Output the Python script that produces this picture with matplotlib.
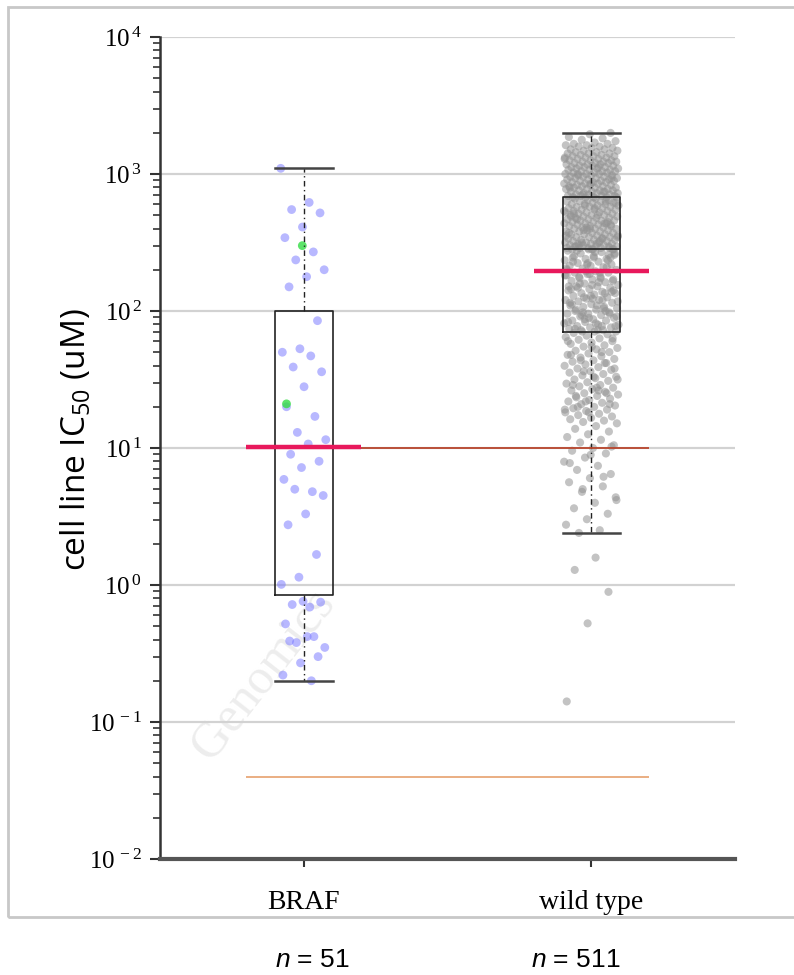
import numpy as np
import matplotlib
matplotlib.use("Agg")
import matplotlib.pyplot as plt
from matplotlib.patches import Rectangle
from matplotlib.ticker import FuncFormatter, LogLocator, NullFormatter, FixedLocator

plt.rcParams['mathtext.fontset'] = 'custom'
plt.rcParams['mathtext.it'] = 'Liberation Sans:italic'
plt.rcParams['mathtext.rm'] = 'Liberation Sans'

# ---------------- data ----------------
categories = ['BRAF', 'wild type']
counts = [51, 511]
y_decades = [-2, -1, 0, 1, 2, 3, 4]

braf_ic50 = [1100, 620, 550, 520, 410, 343, 270, 236, 200, 178, 150,
             85, 53, 50, 47, 39, 36, 28, 20, 17, 13, 11.5, 10.7,
             9, 8, 7.2, 5.9, 4.8, 5.0, 4.5, 3.3, 2.75, 1.67, 1.14, 1.01,
             0.69, 0.72, 0.75, 0.76, 0.52, 0.42, 0.38, 0.35, 0.42, 0.39,
             0.30, 0.27, 0.22, 0.20]
braf_green_ic50 = [300, 21]

# wild type, log10(IC50), by quarter
wt_log_q4 = [3.30, 3.29, 3.27, 3.26, 3.25, 3.24, 3.23, 3.22, 3.22, 3.21, 3.21, 3.20, 3.20, 3.19, 3.19, 3.18, 3.18, 3.17, 3.17, 3.16,
             3.16, 3.15, 3.15, 3.15, 3.14, 3.14, 3.13, 3.13, 3.13, 3.12, 3.12, 3.11, 3.11, 3.11, 3.10, 3.10, 3.10, 3.09, 3.09, 3.09,
             3.08, 3.08, 3.08, 3.07, 3.07, 3.07, 3.06, 3.06, 3.06, 3.05, 3.05, 3.05, 3.04, 3.04, 3.04, 3.03, 3.03, 3.03, 3.02, 3.02,
             3.02, 3.01, 3.01, 3.01, 3.00, 3.00, 3.00, 2.99, 2.99, 2.99, 2.98, 2.98, 2.98, 2.97, 2.97, 2.97, 2.96, 2.96, 2.96, 2.95,
             2.95, 2.95, 2.94, 2.94, 2.94, 2.93, 2.93, 2.93, 2.92, 2.92, 2.92, 2.91, 2.91, 2.91, 2.90, 2.90, 2.90, 2.89, 2.89, 2.89,
             2.88, 2.88, 2.88, 2.87, 2.87, 2.87, 2.86, 2.86, 2.86, 2.85, 2.85, 2.85, 2.84, 2.84, 2.84, 2.84, 2.83, 2.83, 2.83, 2.83,
             3.12, 3.05, 3.00, 2.97, 2.93, 2.90, 2.87, 2.85]
wt_log_q3 = [2.83, 2.82, 2.82, 2.81, 2.81, 2.80, 2.80, 2.80, 2.79, 2.79, 2.78, 2.78, 2.78, 2.77, 2.77, 2.76, 2.76, 2.76, 2.75, 2.75,
             2.74, 2.74, 2.74, 2.73, 2.73, 2.72, 2.72, 2.72, 2.71, 2.71, 2.70, 2.70, 2.70, 2.69, 2.69, 2.68, 2.68, 2.68, 2.67, 2.67,
             2.66, 2.66, 2.66, 2.65, 2.65, 2.64, 2.64, 2.64, 2.63, 2.63, 2.62, 2.62, 2.62, 2.61, 2.61, 2.60, 2.60, 2.60, 2.59, 2.59,
             2.58, 2.58, 2.58, 2.57, 2.57, 2.56, 2.56, 2.56, 2.55, 2.55, 2.54, 2.54, 2.54, 2.53, 2.53, 2.52, 2.52, 2.52, 2.51, 2.51,
             2.50, 2.50, 2.50, 2.49, 2.49, 2.49, 2.48, 2.48, 2.48, 2.47, 2.47, 2.47, 2.47, 2.46, 2.46, 2.46, 2.46, 2.45, 2.45, 2.45,
             2.80, 2.77, 2.73, 2.70, 2.67, 2.63, 2.60, 2.57, 2.53, 2.50, 2.79, 2.75, 2.71, 2.65, 2.61, 2.55, 2.51, 2.48, 2.45, 2.45,
             2.69, 2.64, 2.59, 2.54, 2.49, 2.47, 2.46, 2.45]
wt_log_q2 = [2.44, 2.43, 2.42, 2.41, 2.40, 2.39, 2.38, 2.38, 2.37, 2.36, 2.35, 2.34, 2.33, 2.33, 2.32, 2.31, 2.30, 2.29, 2.28, 2.28,
             2.27, 2.26, 2.25, 2.24, 2.23, 2.23, 2.22, 2.21, 2.20, 2.19, 2.18, 2.18, 2.17, 2.16, 2.15, 2.14, 2.13, 2.13, 2.12, 2.11,
             2.10, 2.09, 2.08, 2.08, 2.07, 2.06, 2.05, 2.04, 2.03, 2.03, 2.02, 2.01, 2.00, 1.99, 1.98, 1.98, 1.97, 1.96, 1.95, 1.94,
             1.93, 1.93, 1.92, 1.91, 1.90, 1.89, 1.88, 1.88, 1.87, 1.86, 1.85, 1.85, 2.43, 2.40, 2.37, 2.34, 2.31, 2.28, 2.25, 2.22,
             2.19, 2.16, 2.13, 2.10, 2.07, 2.04, 2.01, 1.98, 1.95, 1.92, 1.89, 1.86, 2.42, 2.39, 2.36, 2.32, 2.29, 2.26, 2.21, 2.17,
             2.14, 2.11, 2.06, 2.02, 1.99, 1.96, 1.91, 1.87, 2.41, 2.35, 2.30, 2.24, 2.20, 2.15, 2.09, 2.05, 2.00, 1.94, 1.90, 1.86,
             2.44, 2.39, 2.27, 2.18, 2.08, 1.97, 1.89, 1.85]
wt_log_q1 = [1.84, 1.83, 1.82, 1.81, 1.80, 1.79, 1.78, 1.77, 1.76, 1.75, 1.74, 1.73, 1.72, 1.71, 1.70, 1.69, 1.68, 1.67, 1.66, 1.65,
             1.64, 1.63, 1.62, 1.61, 1.60, 1.59, 1.58, 1.57, 1.56, 1.55, 1.54, 1.53, 1.52, 1.51, 1.50, 1.49, 1.48, 1.47, 1.46, 1.45,
             1.44, 1.43, 1.42, 1.41, 1.40, 1.39, 1.38, 1.37, 1.36, 1.35, 1.34, 1.33, 1.32, 1.31, 1.30, 1.29, 1.28, 1.27, 1.26, 1.25,
             1.24, 1.23, 1.22, 1.21, 1.20, 1.19, 1.18, 1.16, 1.14, 1.12, 1.10, 1.08, 1.06, 1.04, 1.02, 1.00, 0.98, 0.96, 0.93, 0.90,
             0.87, 0.84, 0.81, 0.78, 0.75, 0.72, 0.68, 0.64, 0.60, 0.56, 0.52, 0.48, 0.44, 0.40, 0.38, 1.80, 1.74, 1.68, 1.62, 1.56,
             1.50, 1.44, 1.38, 1.32, 1.26, 1.78, 1.70, 1.64, 1.58, 1.52, 1.46, 1.40, 1.34, 1.28, 1.42, 1.30,
             1.01, 0.95, 0.89, 0.79, 0.70, 0.62, 0.20, 0.11, -0.05, -0.28, -0.85]

# box summaries
box_q1 = [0.85, 70]
box_med = [10, 285]
box_q3 = [100, 680]
whisker_lo = [0.2, 2.4]
whisker_hi = [1100, 2000]

# highlighted (red) level per group and reference lines
red_level = [10.2, 195]
ref_levels = [10, 0.04]

# ---------------- figure ----------------
fig = plt.figure(figsize=(7.94, 9.75), dpi=100)
ax = fig.add_axes([160/794, 1-859/975, (735-160)/794, (859-37)/975])
ax.set_yscale('log')
ax.set_ylim(1e-2, 1e4)
ax.set_xlim(0.5, 2.5)

positions = [1, 2]


def jitter(n, half, start=0):
    idx = np.arange(start, start + n)
    return ((idx * 0.6180339887) % 1.0 - 0.5) * 2 * half


braf = np.array(braf_ic50)
wt = 10 ** np.array(wt_log_q4 + wt_log_q3 + wt_log_q2 + wt_log_q1)

ax.scatter(positions[0] + jitter(len(braf), 0.08), braf, s=40, color='#7f7fff',
           alpha=0.55, edgecolors='none', zorder=2)
ax.scatter(positions[0] + np.array([-0.005, -0.06]), braf_green_ic50, s=40, color='#33dd44',
           alpha=0.8, edgecolors='none', zorder=2)
ax.scatter(positions[1] + jitter(len(wt), 0.095, start=3), wt, s=34, color='#929292',
           alpha=0.55, edgecolors='none', zorder=2)

stats = [dict(med=box_med[i], q1=box_q1[i], q3=box_q3[i], whislo=whisker_lo[i],
              whishi=whisker_hi[i], fliers=[]) for i in range(2)]
ax.bxp(stats, positions=positions, widths=0.2, capwidths=[0.2, 0.2], showfliers=False,
       manage_ticks=False,
       boxprops=dict(color='#222222', lw=1.2),
       whiskerprops=dict(color='#222222', lw=1.0, linestyle=(0, (4, 2.5, 1, 2.5))),
       capprops=dict(color='#444444', lw=1.8),
       medianprops=dict(color='#222222', lw=1.2))
for c in ax.lines:
    c.set_zorder(3)

ax.hlines(ref_levels[0], 0.8, 2.2, color='#b8452c', lw=1.3, zorder=4)
ax.hlines(ref_levels[1], 0.8, 2.2, color='#e8a878', lw=1.3, zorder=4)
for p, lv in zip(positions, red_level):
    ax.hlines(lv, p - 0.2, p + 0.2, color='#e8195c', lw=3.2, zorder=5)

# grid and spines
ax.yaxis.grid(True, which='major', color='#d2d2d2', lw=1.6)
ax.set_axisbelow(True)
for s in ['top', 'right']:
    ax.spines[s].set_visible(False)
ax.spines['left'].set_color('#333333')
ax.spines['left'].set_linewidth(1.8)
ax.spines['bottom'].set_color('#555555')
ax.spines['bottom'].set_linewidth(3)

ax.yaxis.set_major_locator(FixedLocator([10.0 ** k for k in y_decades]))
ax.yaxis.set_minor_locator(LogLocator(base=10, subs=np.arange(2, 10), numticks=20))
ax.yaxis.set_minor_formatter(NullFormatter())
ax.yaxis.set_major_formatter(FuncFormatter(
    lambda v, p: r'$\mathregular{10^{\,%d}}$' % int(round(np.log10(v)))))
ax.tick_params(axis='y', which='major', length=7, width=1.5, color='#333333', pad=6,
               labelsize=18)
ax.tick_params(axis='y', which='minor', length=5, width=1.2, color='#333333')
for lab in ax.get_yticklabels():
    lab.set_family('Liberation Serif')

ax.set_xticks(positions)
ax.set_xticklabels(categories, family='Liberation Serif', fontsize=20)
ax.tick_params(axis='x', length=6, width=1.5, color='#333333', pad=16)

# faint watermark
ax.text(0.18, 0.225, 'Genomics', transform=ax.transAxes, rotation=52, color='#ededed',
        fontsize=36, family='Liberation Serif', ha='center', va='center', zorder=0.5)

# y label
fig.text(76/794, 1-440/975, r'cell line IC$\mathregular{_{50}}$ (uM)', rotation=90,
         fontsize=24, family='Open Sans', ha='center', va='center')

# n labels
fig.text(312/794, 1-967/975, r'$\mathit{n}$ = %d' % counts[0], fontsize=19,
         family='Liberation Sans', ha='center', va='baseline')
fig.text(576/794, 1-967/975, r'$\mathit{n}$ = %d' % counts[1], fontsize=19,
         family='Liberation Sans', ha='center', va='baseline')

# outer frame
fig.add_artist(Rectangle((8/794, 1-917/975), 1.0, (917-7)/975, transform=fig.transFigure,
                         fill=False, ec='#c8c8c8', lw=2))

fig.savefig('out.png', dpi=100)
